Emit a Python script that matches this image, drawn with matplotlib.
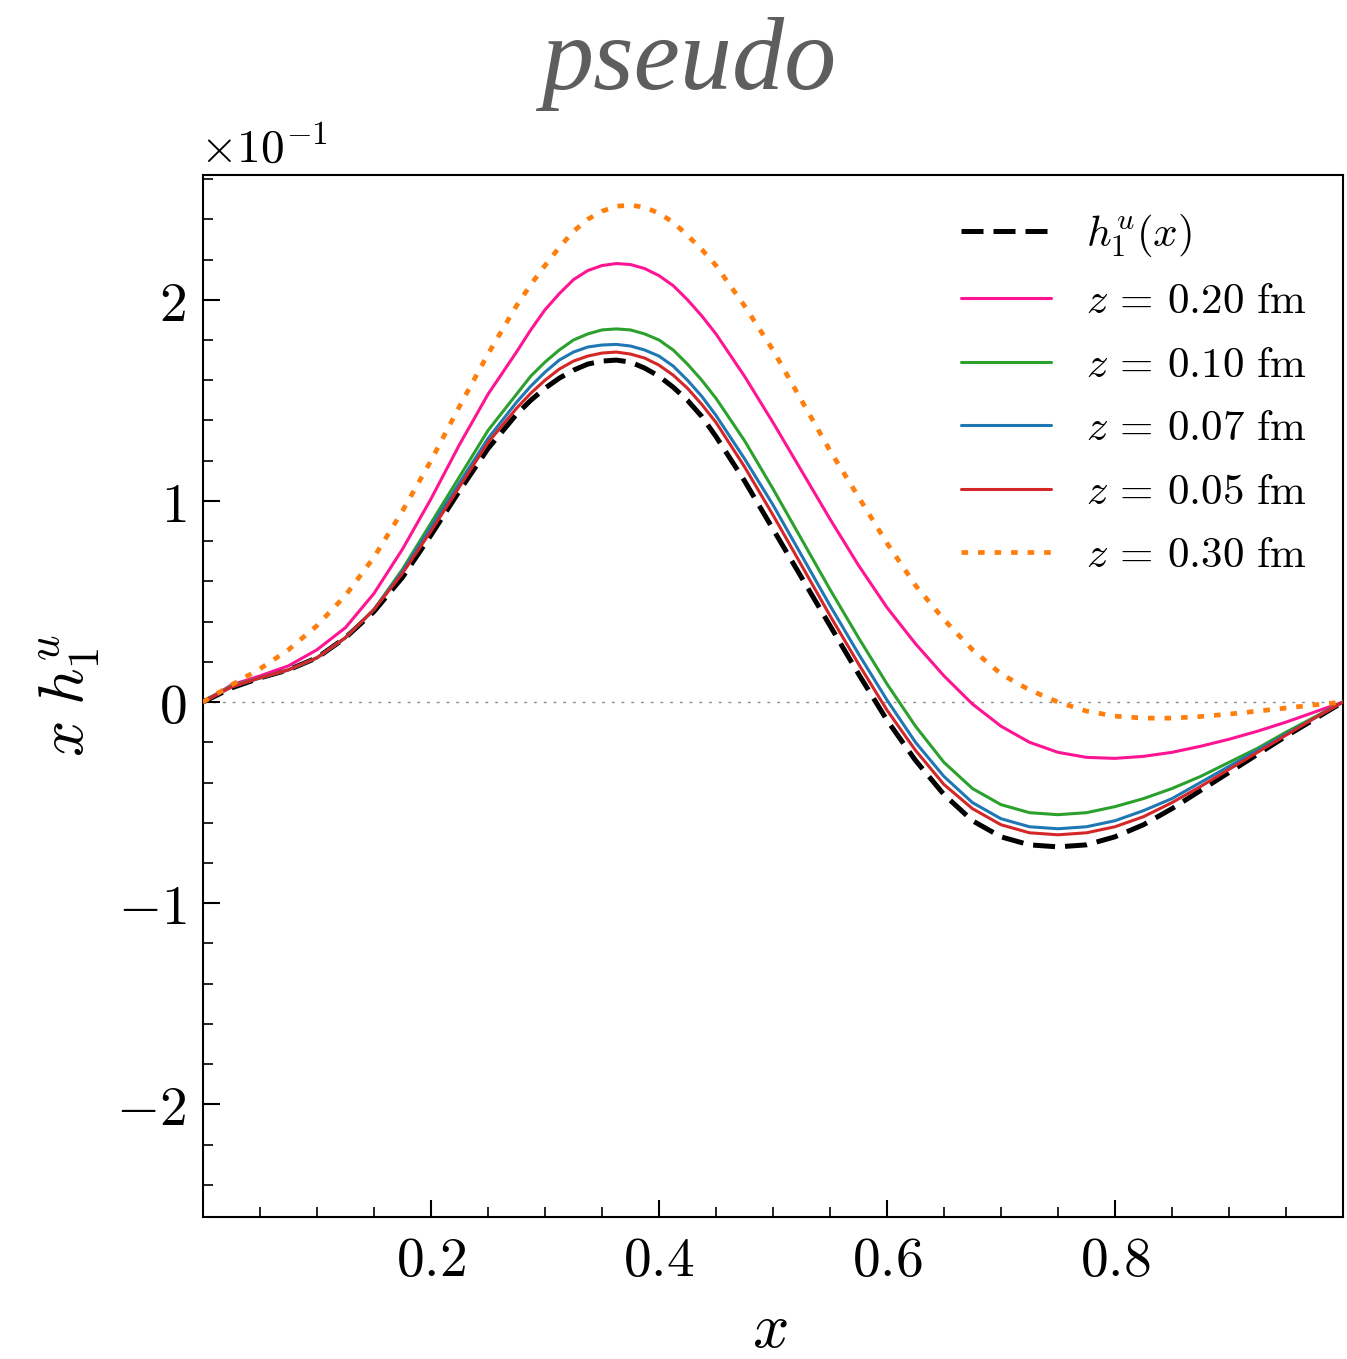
import matplotlib
matplotlib.use("Agg")
import matplotlib.pyplot as plt
from matplotlib.ticker import MultipleLocator, FuncFormatter, FixedLocator

plt.rcParams['mathtext.fontset'] = 'cm'
plt.rcParams['font.family'] = ['DejaVu Sans']

# x positions of read-off points (denser around the peak)
x = [0.0, 0.025, 0.05, 0.075, 0.1, 0.125, 0.15, 0.175, 0.2, 0.225, 0.25, 0.275,
     0.2875, 0.3, 0.3125, 0.325, 0.3375, 0.35, 0.3625, 0.375, 0.3875, 0.4, 0.4125,
     0.425, 0.4375,
     0.45, 0.475, 0.5, 0.525, 0.55, 0.575, 0.6, 0.625, 0.65, 0.675, 0.7, 0.725, 0.75,
     0.775, 0.8, 0.825, 0.85, 0.875, 0.9, 0.925, 0.95, 0.975, 1.0]

# values in units of 10^-1
Y_SCALE = 0.1
h1u = [0, .07, .12, .16, .22, .32, .45, .62, .83, 1.05, 1.26, 1.43,
       1.50, 1.56, 1.61, 1.65, 1.68, 1.695, 1.70, 1.69, 1.66, 1.62, 1.565, 1.50, 1.42,
       1.32, 1.10, .86, .62, .38, .14, -.09, -.29, -.46, -.59, -.67, -.71, -.72, -.71,
       -.67, -.61, -.53, -.44, -.35, -.26, -.17, -.085, 0]
z020 = [0, .085, .13, .18, .26, .37, .54, .76, 1.01, 1.28, 1.53, 1.74,
        1.85, 1.95, 2.03, 2.10, 2.145, 2.17, 2.18, 2.175, 2.155, 2.12, 2.07, 2.00, 1.92,
        1.83, 1.62, 1.39, 1.15, .91, .68, .47, .29, .13, -.01, -.12, -.20, -.25, -.275,
        -.28, -.27, -.25, -.22, -.185, -.145, -.10, -.05, 0]
z010 = [0, .08, .12, .16, .22, .32, .46, .66, .89, 1.12, 1.35, 1.53,
        1.62, 1.69, 1.75, 1.80, 1.83, 1.85, 1.855, 1.85, 1.83, 1.80, 1.75, 1.68, 1.60,
        1.51, 1.30, 1.06, .81, .56, .32, .09, -.12, -.30, -.43, -.51, -.55, -.56, -.55,
        -.52, -.48, -.43, -.37, -.30, -.23, -.15, -.075, 0]
z007 = [0, .075, .12, .16, .22, .32, .46, .65, .87, 1.09, 1.31, 1.49,
        1.57, 1.64, 1.70, 1.74, 1.765, 1.775, 1.778, 1.77, 1.75, 1.72, 1.67, 1.60, 1.52,
        1.425, 1.21, .98, .73, .48, .24, .01, -.20, -.37, -.50, -.58, -.62, -.63, -.62,
        -.59, -.54, -.48, -.40, -.32, -.24, -.16, -.08, 0]
z005 = [0, .075, .12, .16, .22, .32, .46, .64, .85, 1.07, 1.29, 1.46,
        1.535, 1.60, 1.655, 1.695, 1.72, 1.735, 1.74, 1.73, 1.71, 1.675, 1.625, 1.56, 1.48,
        1.39, 1.17, .93, .68, .43, .19, -.04, -.24, -.41, -.53, -.61, -.65, -.66, -.65,
        -.62, -.57, -.50, -.42, -.335, -.25, -.165, -.08, 0]
z030 = [0, .085, .165, .26, .38, .53, .72, .95, 1.20, 1.47, 1.73, 1.97,
        2.075, 2.17, 2.26, 2.34, 2.40, 2.44, 2.465, 2.47, 2.46, 2.43, 2.385, 2.32, 2.25,
        2.17, 1.97, 1.75, 1.50, 1.25, 1.02, .79, .58, .41, .26, .14, .06, 0.0, -.045,
        -.07, -.08, -.08, -.072, -.06, -.045, -.03, -.014, 0]

labels = [r"$h_1^u(x)$", r"$z\,=\,0.20\ \mathrm{fm}$", r"$z\,=\,0.10\ \mathrm{fm}$",
          r"$z\,=\,0.07\ \mathrm{fm}$", r"$z\,=\,0.05\ \mathrm{fm}$", r"$z\,=\,0.30\ \mathrm{fm}$"]
xticks = [0.2, 0.4, 0.6, 0.8]

fig = plt.figure(figsize=(13.47, 13.59), dpi=100)
ax = fig.add_axes([0.1507, 0.1045, 0.8463, 0.7667])


def sc(v):
    return [a * Y_SCALE for a in v]


ax.axhline(0, color='#8a8a8a', lw=1.0, ls=(0, (2, 5)), zorder=1)
ax.plot(x, sc(h1u), color='black', lw=3.6, ls=(0, (4.4, 2.0)), label=labels[0],
        zorder=2, solid_joinstyle='round')
kw = dict(lw=2.2, zorder=3, solid_joinstyle='round', solid_capstyle='round')
ax.plot(x, sc(z020), color='#ff1493', label=labels[1], **kw)
ax.plot(x, sc(z010), color='#2ca02c', label=labels[2], **kw)
ax.plot(x, sc(z007), color='#1f77b4', label=labels[3], **kw)
ax.plot(x, sc(z005), color='#d62728', label=labels[4], **kw)
ax.plot(x, sc(z030), color='#ff7f0e', lw=3.4, ls=(0, (1.4, 2.1)), label=labels[5], zorder=4)

ax.set_xlim(0, 1)
ax.set_ylim(-0.256, 0.262)

ax.xaxis.set_major_locator(FixedLocator(xticks))
ax.xaxis.set_minor_locator(MultipleLocator(0.05))
ax.yaxis.set_major_locator(MultipleLocator(0.1))
ax.yaxis.set_minor_locator(MultipleLocator(0.02))
ax.xaxis.set_major_formatter(FuncFormatter(lambda v, p: r"$%g$" % round(v, 2)))
ax.yaxis.set_major_formatter(FuncFormatter(lambda v, p: r"$%d$" % int(round(v / Y_SCALE))))

ax.tick_params(which='both', direction='in', top=False, right=False)
ax.tick_params(which='major', length=12, width=1.5, labelsize=40, pad=12)
ax.tick_params(which='minor', length=7, width=1.2)
for s in ax.spines.values():
    s.set_linewidth(1.5)

ax.text(-0.003, 1.003, r"$\times10^{-1}$", transform=ax.transAxes, fontsize=34,
        ha='left', va='bottom')

ax.set_xlabel(r"$x$", fontsize=46)
ax.set_ylabel(r"$x\;h_1^u$", fontsize=46)
ax.xaxis.set_label_coords(0.497, -0.078)
ax.yaxis.set_label_coords(-0.088, 0.50)

leg = ax.legend(loc='upper right', fontsize=31, frameon=False, handlelength=2.1,
                handletextpad=0.8, labelspacing=0.5, borderaxespad=0.45)

fig.text(0.511, 1 - 89 / 1359, "pseudo", fontsize=75, family='Liberation Serif',
         style='italic', color='#5e5e5e', ha='center', va='baseline')

fig.savefig("out.png", dpi=100)
